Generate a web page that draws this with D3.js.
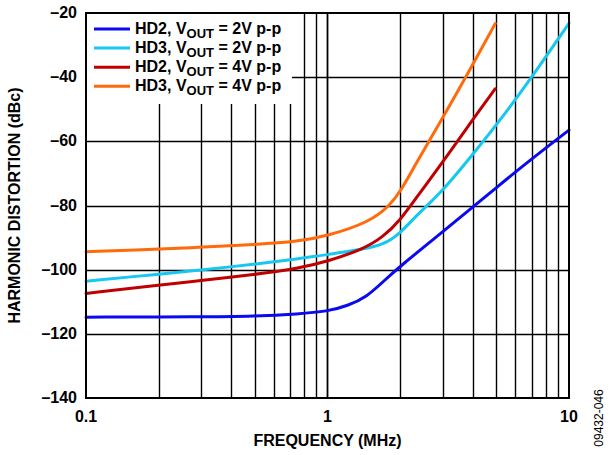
<!DOCTYPE html>
<html>
<head>
<meta charset="utf-8">
<script src="https://cdn.jsdelivr.net/npm/d3@7"></script>
<style>
	body { margin: 0; background: #fff; }
	text { font-family: Arial, "Liberation Sans", sans-serif; font-weight: bold; fill: #000; }
</style>
</head>
<body>
<div id="chart"></div>
<script>
// Data:
var yTicks = [-20, -40, -60, -80, -100, -120, -140];
var xTicks = [0.1, 1, 10];
var xTickLabels = ["0.1", "1", "10"];

var hd2_2v_freq = [0.1, 0.3, 0.5, 0.76, 1, 1.21, 1.46, 1.7, 2, 3, 4, 5, 7, 10];
var hd2_2v_db   = [-114.8, -114.7, -114.5, -113.8, -113.0, -111.3, -108.4, -103.7, -98.9, -88.2, -80.5, -74.4, -65.5, -56.5];

var hd3_2v_freq = [0.1, 0.2, 0.3, 0.5, 0.76, 1, 1.41, 1.7, 2, 2.34, 3, 4, 5, 7, 10];
var hd3_2v_db   = [-103.6, -101.4, -100.1, -98.3, -96.6, -95.3, -93.6, -92.3, -88.7, -83.0, -75.5, -64.0, -55.0, -40.2, -23.2];

var hd2_4v_freq = [0.1, 0.2, 0.3, 0.5, 0.76, 1, 1.41, 1.7, 2, 2.34, 3, 4, 4.95];
var hd2_4v_db   = [-107.4, -104.8, -103.4, -101.5, -99.6, -97.4, -93.6, -89.8, -84.6, -77.4, -66.5, -53.1, -43.6];

var hd3_4v_freq = [0.1, 0.2, 0.3, 0.5, 0.76, 1, 1.5, 1.81, 2, 2.34, 2.93, 4, 4.95];
var hd3_4v_db   = [-94.4, -93.6, -93.0, -92.2, -91.2, -89.5, -85.1, -80.0, -75.8, -66.5, -54.1, -36.0, -23.3];

var seriesNames  = ["HD2", "HD3", "HD2", "HD3"];
var seriesVolts  = ["2V", "2V", "4V", "4V"];
var seriesColors = ["#0a0af0", "#14c8f0", "#c00000", "#ff6a0a"];
var seriesFreqs  = [hd2_2v_freq, hd3_2v_freq, hd2_4v_freq, hd3_4v_freq];
var seriesDbs    = [hd2_2v_db, hd3_2v_db, hd2_4v_db, hd3_4v_db];

var W = 615, H = 455;
var margin = { left: 86, top: 13, right: 46, bottom: 57 };
var plotW = W - margin.left - margin.right;
var plotH = H - margin.top - margin.bottom;

var svg = d3.select("#chart").append("svg")
	.attr("width", W)
	.attr("height", H);

var g = svg.append("g")
	.attr("transform", "translate(" + margin.left + "," + margin.top + ")");

// Scales:
var xScale = d3.scaleLog().domain([0.1, 10]).range([0, plotW]);
var yScale = d3.scaleLinear().domain([-140, -20]).range([plotH, 0]);

// Grid lines:
var minorTicks = [];
[0.1, 1].forEach(function(dec){
	for (var k = 2; k <= 9; k++) minorTicks.push(dec * k);
});

var grid = g.append("g");
grid.selectAll(".v")
	.data(minorTicks.concat([1]))
	.enter()
	.append("line")
	.attr("x1", function(d){ return Math.round(xScale(d)) + 0.5; })
	.attr("x2", function(d){ return Math.round(xScale(d)) + 0.5; })
	.attr("y1", 0)
	.attr("y2", plotH)
	.attr("stroke", "#000")
	.attr("stroke-width", function(d){ return d == 1 ? 1.8 : 1.4; });

grid.selectAll(".h")
	.data(yTicks.slice(1, -1))
	.enter()
	.append("line")
	.attr("x1", 0)
	.attr("x2", plotW)
	.attr("y1", function(d){ return Math.round(yScale(d)) + 0.5; })
	.attr("y2", function(d){ return Math.round(yScale(d)) + 0.5; })
	.attr("stroke", "#000")
	.attr("stroke-width", 1.4);

// Legend background hides the grid:
g.append("rect")
	.attr("x", 1)
	.attr("y", 1)
	.attr("width", 205)
	.attr("height", 90)
	.attr("fill", "#fff");

// Curves:
var line = d3.line()
	.x(function(d){ return xScale(d[0]); })
	.y(function(d){ return yScale(d[1]); })
	.curve(d3.curveBasis);

seriesFreqs.forEach(function(freqs, i){
	var pts = freqs.map(function(f, j){ return [f, seriesDbs[i][j]]; });
	g.append("path")
		.datum(pts)
		.attr("d", line)
		.attr("fill", "none")
		.attr("stroke", seriesColors[i])
		.attr("stroke-width", 3)
		.attr("stroke-linecap", "round");
});

// Frame:
g.append("rect")
	.attr("x", 0)
	.attr("y", 0)
	.attr("width", plotW)
	.attr("height", plotH)
	.attr("fill", "none")
	.attr("stroke", "#000")
	.attr("stroke-width", 2);

// Legend:
var legend = g.append("g").attr("transform", "translate(8,16)");
seriesNames.forEach(function(name, i){
	var row = legend.append("g").attr("transform", "translate(0," + (i * 19.1) + ")");
	row.append("line")
		.attr("x1", 0).attr("x2", 36)
		.attr("y1", 0).attr("y2", 0)
		.attr("stroke", seriesColors[i])
		.attr("stroke-width", 3);
	var t = row.append("text")
		.attr("x", 41)
		.attr("y", 5)
		.attr("font-size", "16px");
	t.append("tspan").text(name + ", V");
	t.append("tspan").attr("font-size", "13px").attr("dy", 4).text("OUT");
	t.append("tspan").attr("dy", -4).text(" = " + seriesVolts[i] + " p-p");
});

// Tick labels:
g.selectAll(".ylab")
	.data(yTicks)
	.enter()
	.append("text")
	.attr("x", -9)
	.attr("y", function(d){ return yScale(d) + 5; })
	.attr("text-anchor", "end")
	.attr("font-size", "16px")
	.text(function(d){ return "\u2013" + Math.abs(d); });

g.selectAll(".xlab")
	.data(xTicks)
	.enter()
	.append("text")
	.attr("x", function(d){ return xScale(d); })
	.attr("y", plotH + 24)
	.attr("text-anchor", "middle")
	.attr("font-size", "16px")
	.text(function(d, i){ return xTickLabels[i]; });

// Axis titles:
svg.append("text")
	.attr("x", margin.left + xScale(1))
	.attr("y", 446)
	.attr("text-anchor", "middle")
	.attr("font-size", "16px")
	.text("FREQUENCY (MHz)");

svg.append("text")
	.attr("transform", "translate(20," + (margin.top + plotH / 2) + ") rotate(-90)")
	.attr("text-anchor", "middle")
	.attr("font-size", "16px")
	.text("HARMONIC DISTORTION (dBc)");

svg.append("text")
	.attr("transform", "translate(603,418) rotate(-90)")
	.attr("text-anchor", "middle")
	.attr("font-size", "12px")
	.style("font-weight", "normal")
	.text("09432-046");
</script>
</body>
</html>
